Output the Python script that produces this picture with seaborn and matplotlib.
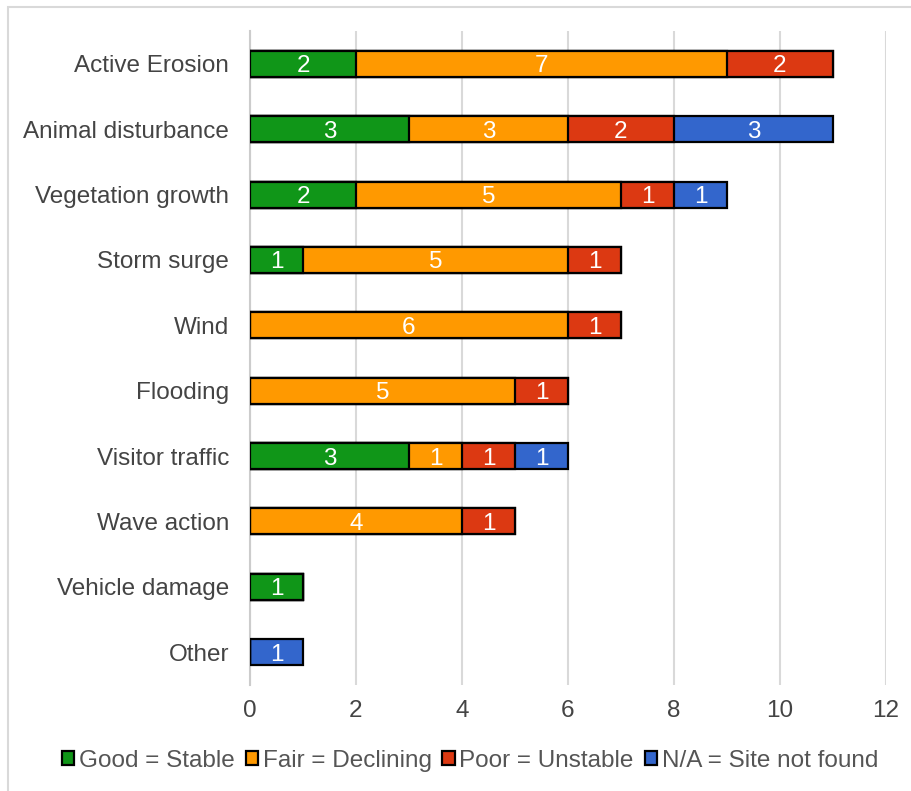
import numpy as np
import pandas as pd
import matplotlib
matplotlib.use("Agg")
import matplotlib.pyplot as plt
from matplotlib.patches import Patch, Rectangle
import seaborn as sns

categories = ["Active Erosion", "Animal disturbance", "Vegetation growth", "Storm surge",
              "Wind", "Flooding", "Visitor traffic", "Wave action", "Vehicle damage", "Other"]
good = [2, 3, 2, 1, 0, 0, 3, 0, 1, 0]
fair = [7, 3, 5, 5, 6, 5, 1, 4, 0, 0]
poor = [2, 2, 1, 1, 1, 1, 1, 1, 0, 0]
na = [0, 3, 1, 0, 0, 0, 1, 0, 0, 1]

series_names = ["Good = Stable", "Fair = Declining", "Poor = Unstable", "N/A = Site not found"]
series_colors = ["#109618", "#FF9900", "#DC3912", "#3366CC"]
x_ticks = [0, 2, 4, 6, 8, 10, 12]

sns.set_theme(style="white")
plt.rcParams["font.family"] = ["Liberation Sans", "DejaVu Sans"]

FS = 17.5

df = pd.DataFrame({"category": categories, "good": good, "fair": fair, "poor": poor, "na": na})
cols = ["good", "fair", "poor", "na"]
cum = df[cols].cumsum(axis=1)

fig = plt.figure(figsize=(9.12, 7.91), dpi=100)
ax = fig.add_axes([250 / 912, 1 - 684.7 / 791, (886 - 250) / 912, (684.7 - 31.3) / 791])

# stacked bars: draw cumulative totals from the outermost segment inward
for col, color in reversed(list(zip(cols, series_colors))):
    sub = pd.DataFrame({"category": categories, "end": cum[col]})
    sns.barplot(data=sub, x="end", y="category", orient="y", color=color,
                edgecolor="black", linewidth=1.6, width=0.4, saturation=1,
                order=categories, ax=ax, zorder=3)

# segment value labels
for i, cat in enumerate(categories):
    for col in cols:
        v = df.loc[i, col]
        if v > 0:
            center = cum.loc[i, col] - v / 2
            ax.text(center, i, str(v), color="white", ha="center", va="center_baseline",
                    fontsize=FS, zorder=5)

ax.set_xlim(0, 12)
ax.set_ylim(9.5, -0.5)
ax.set_xticks(x_ticks)
ax.set_xticklabels([str(t) for t in x_ticks])
ax.set_xlabel("")
ax.set_ylabel("")
ax.grid(axis="x", color="#d9d9d9", linewidth=1.5, zorder=0)
ax.set_axisbelow(True)
for s in ["top", "right", "bottom"]:
    ax.spines[s].set_visible(False)
ax.spines["left"].set_color("#cccccc")
ax.spines["left"].set_linewidth(1.5)
ax.spines["left"].set_zorder(1)
ax.tick_params(axis="x", length=0, pad=11, labelsize=FS, labelcolor="#444444")
ax.tick_params(axis="y", length=0, pad=15, labelsize=FS, labelcolor="#444444")

handles = [Patch(facecolor=c, edgecolor="black", linewidth=1.6, label=n)
           for n, c in zip(series_names, series_colors)]
fig.legend(handles=handles, loc="center", bbox_to_anchor=(470 / 912, 1 - 761 / 791), ncol=4,
           frameon=False, fontsize=FS, handlelength=0.5, handleheight=0.5,
           handletextpad=0.2, columnspacing=0.45, labelcolor="#555555")

# light frame around the figure
top = 1 - 7 / 791
fig.patches.append(Rectangle((8 / 912, -0.2), 1.2, top + 0.2, transform=fig.transFigure,
                             fill=False, edgecolor="#d9d9d9", linewidth=1.5))

fig.savefig("out.png", dpi=100, facecolor="white")
